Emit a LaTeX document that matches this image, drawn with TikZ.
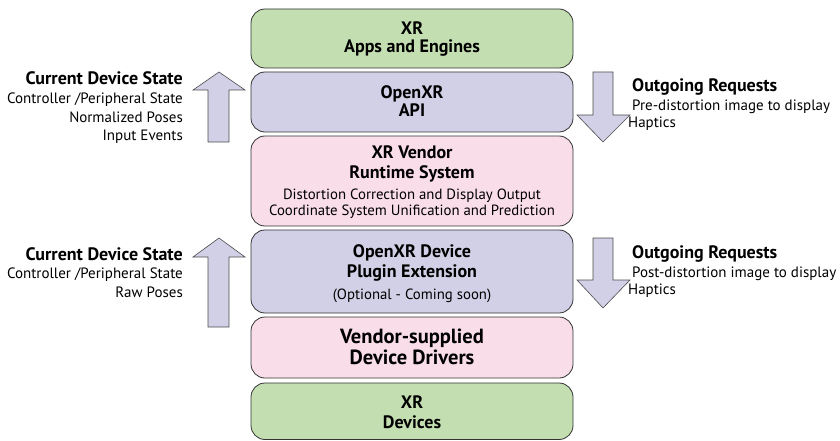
\documentclass[tikz,border=0pt]{standalone}
\usepackage{fontspec}
\setmainfont{PT Sans}
\usetikzlibrary{calc}
\definecolor{cgreen}{HTML}{C3DEB0}
\definecolor{cpurple}{HTML}{D2D0E6}
\definecolor{cpink}{HTML}{F9DDE9}
\begin{document}
\begin{tikzpicture}[x=1pt,y=-1pt,
  layer/.style={draw=black!80, line width=0.8pt, rounded corners=14pt},
  bigarrow/.style={draw=black!70, line width=0.6pt, fill=cpurple},
  ttl/.style={font=\fontsize{18}{20}\selectfont\bfseries, inner sep=0pt, anchor=base},
  sub/.style={font=\fontsize{14.8}{16}\selectfont, inner sep=0pt, anchor=base},
  lbl/.style={font=\fontsize{15}{16}\selectfont, inner sep=0pt},
  lblb/.style={font=\fontsize{18}{18}\selectfont\bfseries, inner sep=0pt}]
\useasboundingbox (0,0) rectangle (840,441);
% layers
\draw[layer, fill=cgreen] (251,9) rectangle (573,68);
\draw[layer, fill=cpurple] (251,72) rectangle (573,132);
\draw[layer, fill=cpink] (251,136) rectangle (573,226);
\draw[layer, fill=cpurple] (251,230) rectangle (573,313);
\draw[layer, fill=cpink] (251,317) rectangle (573,378);
\draw[layer, fill=cgreen] (251,383) rectangle (573,439.5);
% texts
\node[ttl] (apps1) at (412,35) {XR};
\node[ttl] (apps2) at (412,53) {Apps and Engines};
\node[ttl] (api1) at (412,99) {OpenXR};
\node[ttl] (api2) at (412,117) {API};
\node[ttl] (rt1) at (412,158) {XR Vendor};
\node[ttl] (rt2) at (412,178) {Runtime System};
\node[sub] (rt3) at (412,199) {Distortion Correction and Display Output};
\node[sub] (rt4) at (412,215) {Coordinate System Unification and Prediction};
\node[ttl] (plug1) at (412,257) {OpenXR Device};
\node[ttl] (plug2) at (412,277) {Plugin Extension};
\node[sub] (plug3) at (412,299) {(Optional - Coming soon)};
\node[ttl, font=\fontsize{20.5}{22}\selectfont\bfseries] (drv1) at (412,343) {Vendor-supplied};
\node[ttl, font=\fontsize{20.5}{22}\selectfont\bfseries] (drv2) at (412,364) {Device Drivers};
\node[ttl] (dev1) at (412,408) {XR};
\node[ttl] (dev2) at (412,428) {Devices};
% arrows left (up)
\draw[bigarrow] (208,142) -- (208,90) -- (193,90) -- (219,72) -- (245,90) -- (229,90) -- (229,142) -- cycle;
\draw[bigarrow] (208,327) -- (208,257) -- (193,257) -- (219,238) -- (245,257) -- (229,257) -- (229,327) -- cycle;
% arrows right (down)
\draw[bigarrow] (593,72) -- (613,72) -- (613,115) -- (630,115) -- (603,142) -- (577,115) -- (593,115) -- cycle;
\draw[bigarrow] (593,238) -- (613,238) -- (613,280) -- (630,280) -- (603,308) -- (577,280) -- (593,280) -- cycle;
% left labels
\node[lblb, anchor=base east] (cs1) at (183,85) {Current Device State};
\node[lbl, anchor=base east] (cs1a) at (183,103) {Controller /Peripheral State};
\node[lbl, anchor=base east] (cs1b) at (183,122) {Normalized Poses};
\node[lbl, anchor=base east] (cs1c) at (183,140) {Input Events};
\node[lblb, anchor=base east] (cs2) at (183,260) {Current Device State};
\node[lbl, anchor=base east] (cs2a) at (183,278) {Controller /Peripheral State};
\node[lbl, anchor=base east] (cs2b) at (183,297) {Raw Poses};
% right labels
\node[lblb, anchor=base west] (or1) at (632,92) {Outgoing Requests};
\node[lbl, anchor=base west] (or1a) at (632,111) {Pre-distortion image to display};
\node[lbl, anchor=base west] (or1b) at (628,128) {Haptics};
\node[lblb, anchor=base west] (or2) at (632,258) {Outgoing Requests};
\node[lbl, anchor=base west] (or2a) at (632,277) {Post-distortion image to display};
\node[lbl, anchor=base west] (or2b) at (628,294) {Haptics};
\end{tikzpicture}
\end{document}
